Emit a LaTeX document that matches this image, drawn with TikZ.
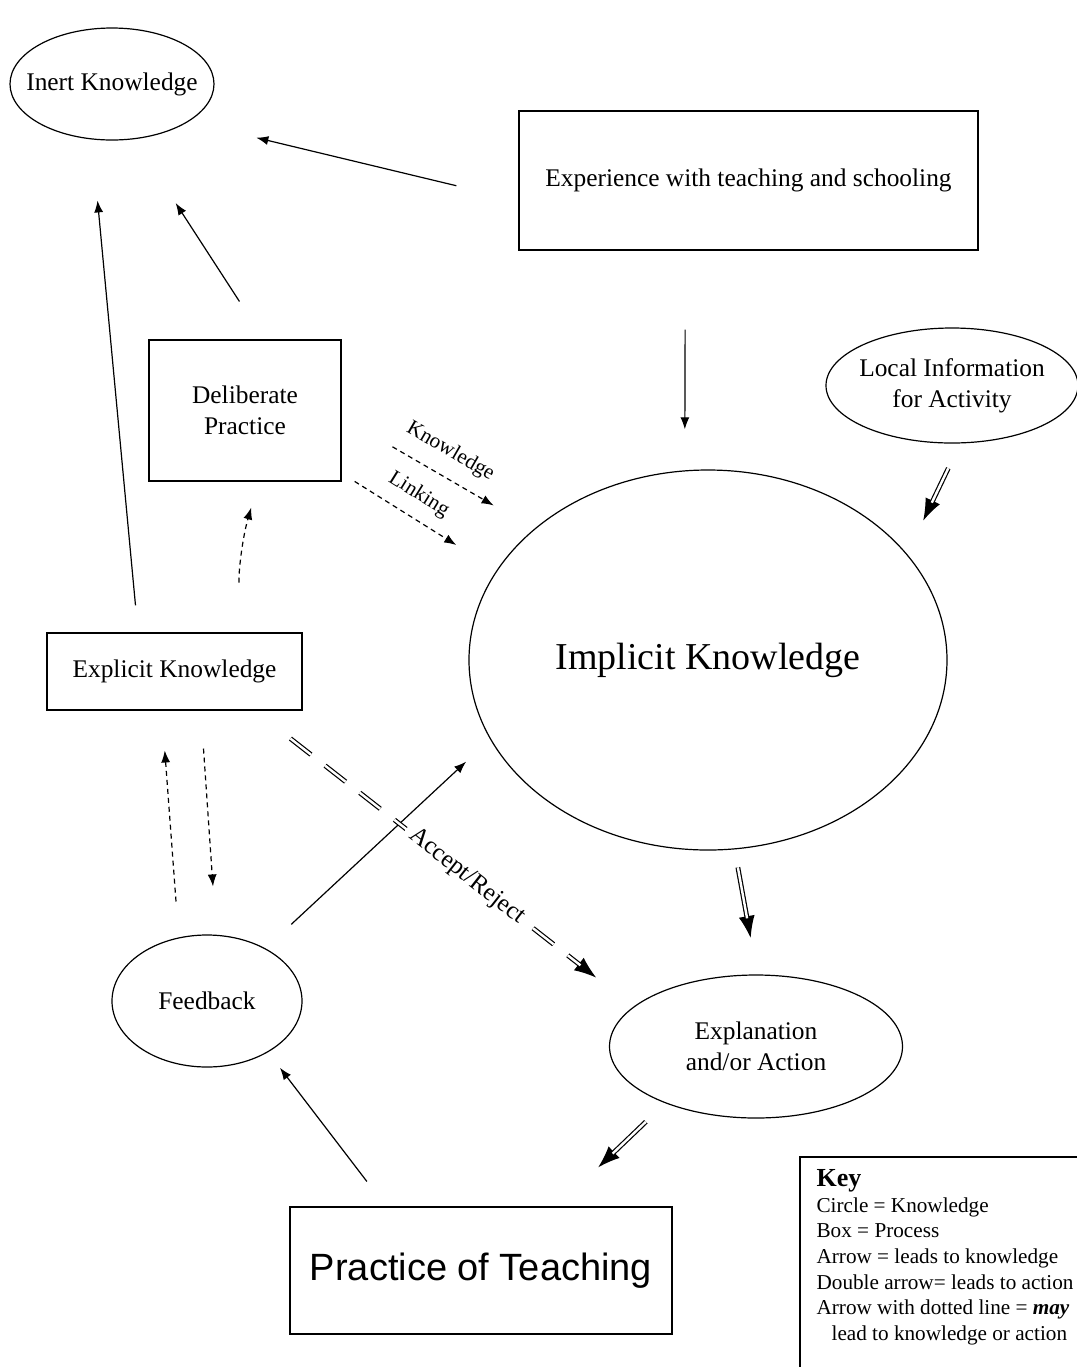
\documentclass[tikz,border=0pt]{standalone}
\usepackage{fontspec}
\setmainfont{Liberation Serif}
\newfontfamily\arialfont{Liberation Sans}
\usetikzlibrary{arrows.meta,shapes.geometric}

\begin{document}
\begin{tikzpicture}[x=0.5pt,y=-0.5pt,line width=0.6pt,
  >={Latex[length=6pt,width=4.5pt]},
  know node/.style={ellipse,draw,inner sep=-8pt,align=center,font=\fontsize{12.7}{15.5}\selectfont},
  proc node/.style={rectangle,draw,inner sep=0pt,align=center,font=\fontsize{12.7}{15.5}\selectfont},
  may/.style={dash pattern=on 2.5pt off 2pt},
  act tip/.style={draw,-{Latex[length=11pt,width=8pt]}},
  act/.style={draw,double,double distance=1.2pt},
  arrow label/.style={font=\fontsize{10.6}{12}\selectfont,sloped}]

  \useasboundingbox (0,0) rectangle (1077,1367);

  \node[know node,minimum width=102pt,minimum height=56pt] (inert) at (112,84) {Inert Knowledge};
  \node[proc node,minimum width=229.5pt,minimum height=69.5pt] (exper) at (748.5,180.5) {Experience with teaching and schooling};
  \node[proc node,minimum width=96pt,minimum height=70.5pt] (delib) at (245,410.5) {Deliberate\\Practice};
  \node[know node,minimum width=126pt,minimum height=57.5pt] (local) at (952,385.5) {Local Information\\for Activity};
  \node[know node,minimum width=239pt,minimum height=190pt,font=\fontsize{19}{22}\selectfont] (implicit) at (708,660) {Implicit Knowledge};
  \node[proc node,minimum width=127.5pt,minimum height=38.5pt] (explicit) at (174.5,671.5) {Explicit Knowledge};
  \node[know node,minimum width=95pt,minimum height=66pt] (feedback) at (207,1001) {Feedback};
  \node[know node,minimum width=146.5pt,minimum height=71.5pt] (explan) at (756,1046.5) {Explanation\\and/or Action};
  \node[proc node,minimum width=191pt,minimum height=63.5pt,font=\arialfont\fontsize{19}{22}\selectfont] (practice) at (481,1270.5) {Practice of Teaching};

  % key
  \draw (800,1157) rectangle (1100,1400);
  \node[anchor=north west,inner sep=0pt,align=left,font=\fontsize{10.6}{12.8}\selectfont] (keytext) at (816,1169)
    {{\fontsize{13}{12.8}\selectfont\bfseries Key}\\Circle = Knowledge\\Box = Process\\Arrow = leads to knowledge\\Double arrow= leads to action\\Arrow with dotted line = \textbf{\textit{may}}\\\hspace*{7.5pt}lead to knowledge or action};

  \path[->]
    (exper.185) edge[shorten <=31.9pt,shorten >=34.7pt] (inert.-26)
    (delib.75) edge[shorten <=22.6pt,shorten >=38pt] (inert.-68)
    (explicit.133) edge[shorten <=13.6pt,shorten >=30.6pt] (inert.-110)
    (exper.-132) edge[shorten <=39.5pt,shorten >=20.5pt] (implicit.97)
    (feedback.42) edge[shorten <=17.6pt,shorten >=16.4pt] (implicit.-160)
    (practice.146) edge[shorten <=15.7pt,shorten >=9.8pt] (feedback.-40);

  \path[->,may]
    (delib.-4) edge[shorten <=29.4pt,shorten >=23.4pt] node[arrow label,above=4pt,pos=0.5] {Knowledge} (implicit.143)
    (delib.-33) edge[shorten <=7.7pt,shorten >=23.8pt] node[arrow label,above=3pt,pos=0.42] {Linking} (implicit.157)
    (explicit.30) edge[bend left=10,shorten <=25pt,shorten >=13.5pt] (delib.-79)
    (explicit.-56) edge[shorten <=19pt,shorten >=24.2pt] (feedback.82)
    (feedback.114) edge[shorten <=18pt,shorten >=20pt] (explicit.-108);

  % double arrows: solid tip first, double line over it
  \path
    (local.-82) edge[act tip,shorten <=23pt,shorten >=18.5pt] (implicit.28)
    (local.-82) edge[act,shorten <=13.7pt,shorten >=28.5pt] (implicit.28)
    (implicit.-82) edge[act tip,shorten <=20pt,shorten >=18.5pt] (explan.89)
    (implicit.-82) edge[act,shorten <=9.1pt,shorten >=28.5pt] (explan.89)
    (explan.-148) edge[act tip,shorten <=22pt,shorten >=28.2pt] (practice.40)
    (explan.-148) edge[act,shorten <=13.4pt,shorten >=38.2pt] (practice.40)
    (explicit.-26) edge[act tip,shorten <=204pt,shorten >=23.6pt] (explan.162)
    (explicit.-26) edge[act,dash pattern=on 13pt off 9pt,shorten <=22.7pt,shorten >=33.6pt]
      node[arrow label,fill=white,pos=0.56,font=\fontsize{12.4}{14}\selectfont] {Accept/Reject} (explan.162);
\end{tikzpicture}
\end{document}
